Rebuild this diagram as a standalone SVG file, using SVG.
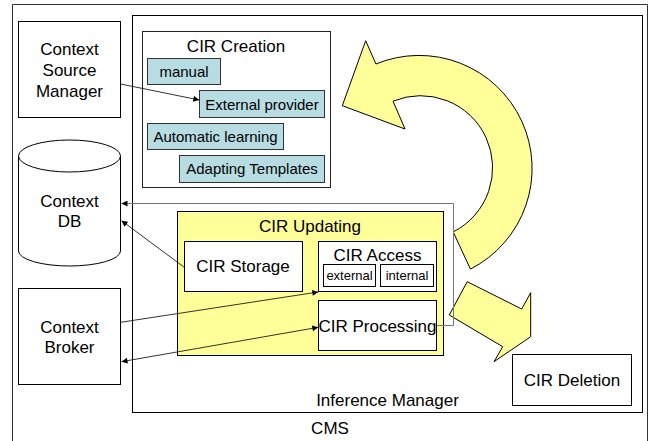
<svg xmlns="http://www.w3.org/2000/svg" width="651" height="441" viewBox="0 0 651 441">
<defs>
<style>
text{font-family:"Liberation Sans",Arial,sans-serif;fill:#000;text-anchor:middle}
.big{font-size:17px}
.mid{font-size:15px}
.sm{font-size:13px}
.box{fill:#fff;stroke:#000;stroke-width:1}
.teal{fill:#b7dde2;stroke:#333;stroke-width:1}
.yel{fill:#ffff99;stroke:#000;stroke-width:1}
.con{fill:none;stroke:#000;stroke-width:0.8}
</style>
<marker id="ah" viewBox="0 0 10 10" refX="10" refY="5" markerWidth="7" markerHeight="6" markerUnits="userSpaceOnUse" orient="auto-start-reverse">
<path d="M0,0 L10,5 L0,10 z" fill="#000"/>
</marker>
</defs>
<rect width="651" height="441" fill="#fff"/>
<g id="cms">
<path d="M12.5,445 V4.5 H647.5 V445" fill="none" stroke="#333" stroke-width="1"/>
<text class="big" x="330" y="434">CMS</text>
</g>
<g id="inference-manager">
<rect x="132.5" y="15.5" width="510" height="397" class="box"/>
<text class="big" x="387.5" y="406">Inference Manager</text>
</g>
<g id="context-source-manager">
<rect x="18.5" y="21.5" width="102" height="96" class="box"/>
<text class="big" x="69.5" y="55">Context</text>
<text class="big" x="69.5" y="76">Source</text>
<text class="big" x="69.5" y="97">Manager</text>
</g>
<g id="context-db">
<path d="M18.5,156 V251 A51,15 0 0 0 120.5,251 V156" fill="#fff" stroke="#000"/>
<ellipse cx="69.5" cy="156" rx="51" ry="16" fill="#fff" stroke="#000"/>
<text class="big" x="69.5" y="207">Context</text>
<text class="big" x="69.5" y="227">DB</text>
</g>
<g id="context-broker">
<rect x="18.5" y="288.5" width="102" height="96" class="box"/>
<text class="big" x="69.5" y="333">Context</text>
<text class="big" x="69.5" y="353">Broker</text>
</g>
<g id="cir-creation">
<rect x="142.5" y="31.5" width="188" height="156" fill="#fff" stroke="#222"/>
<text class="big" x="236" y="52">CIR Creation</text>
<g id="manual"><rect x="147.5" y="58.5" width="73" height="26" class="teal"/><text class="mid" x="184" y="77">manual</text></g>
<g id="external-provider"><rect x="199.5" y="90.5" width="125" height="27" class="teal"/><text class="mid" x="262" y="110">External provider</text></g>
<g id="automatic-learning"><rect x="147.5" y="123.5" width="136" height="26" class="teal"/><text class="mid" x="215.5" y="142">Automatic learning</text></g>
<g id="adapting-templates"><rect x="179.5" y="155.5" width="145" height="27" class="teal"/><text class="mid" x="252" y="174">Adapting Templates</text></g>
</g>
<g id="cycle-arrow">
<path d="M342.3,105.7 L365.7,40.7 L375.9,64 A113,113 0 0 1 470.4,269.1 L453.2,231.9 A72,72 0 0 0 393,101.2 L405,129 Z" class="yel"/>
</g>
<g id="delete-arrow">
<path d="M467.2,281.7 L521.7,309 L530.7,292.7 L530.7,336.7 L494,361.7 L502.7,346.7 L449.3,315 Z" class="yel"/>
</g>
<g id="cir-updating">
<rect x="177.5" y="211.5" width="266" height="144" class="yel"/>
<text class="big" x="310" y="232">CIR Updating</text>
<g id="cir-storage"><rect x="184.5" y="241.5" width="118" height="50" class="box"/><text class="big" x="243" y="272">CIR Storage</text></g>
<g id="cir-access">
<rect x="318.5" y="241.5" width="118" height="50" class="box"/>
<text class="big" x="377.5" y="261">CIR Access</text>
<rect x="323.5" y="264.5" width="52" height="22" class="box"/><text class="sm" x="349.5" y="280">external</text>
<rect x="380.5" y="264.5" width="53" height="22" class="box"/><text class="sm" x="407" y="280">internal</text>
</g>
<g id="cir-processing"><rect x="318.5" y="300.5" width="118" height="50" class="box"/><text class="big" x="377.5" y="332">CIR Processing</text></g>
</g>
<g id="cir-deletion">
<rect x="512.5" y="354.5" width="119" height="51" class="box"/>
<text class="big" x="572" y="386">CIR Deletion</text>
</g>
<g id="connectors">
<line x1="120.7" y1="84" x2="199.3" y2="100" class="con" marker-end="url(#ah)"/>
<polyline points="436.7,325.5 453.5,325.5 453.5,203.5 121.5,203.5" fill="none" stroke="#777" stroke-width="1" marker-end="url(#ah)"/>
<line x1="184.3" y1="267.3" x2="121.5" y2="220.7" class="con" marker-end="url(#ah)"/>
<line x1="120.7" y1="322.3" x2="318.3" y2="292" class="con" marker-end="url(#ah)"/>
<line x1="121.5" y1="361.7" x2="318.3" y2="327.3" class="con" marker-start="url(#ah)" marker-end="url(#ah)"/>
</g>
</svg>
